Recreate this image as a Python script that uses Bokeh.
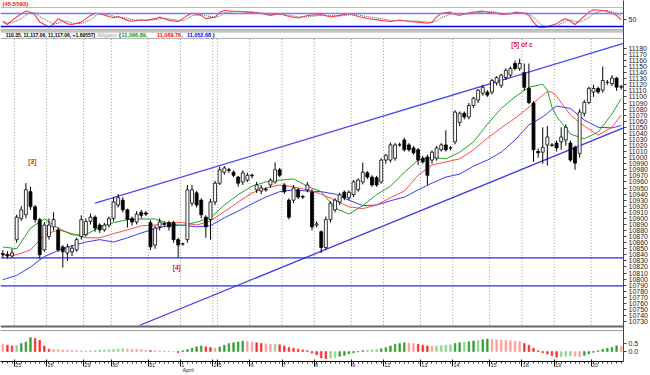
import numpy as np
from bokeh.plotting import figure
from bokeh.models import (Range1d, FixedTicker, CustomJSTickFormatter, Label, Span, AllLabels)
from bokeh.embed import file_html
from bokeh.resources import INLINE

# ---------------- data ----------------
days = ["24", "25", "26", "29", "30", "31", "1", "2", "5", "6", "7", "8", "9",
        "12", "13", "14", "15", "16", "19", "20"]
bars_per_day = [3, 7, 8, 6, 8, 7, 7, 1, 7, 7, 7, 8, 7, 8, 7, 8, 7, 7, 8, 7]
month_label = "April"
month_day = "1"

opens = [10842,10840,10838,10865,10900,10906,10944,10919,10898,10848,
         10870,10886,10881,10853,10843,10845,10848,10870,10873,10895,
         10902,10889,10881,10889,10900,10922,10930,10914,10900,10894,
         10910,10909,10893,10856,10886,10891,10893,10893,10865,10858,
         10865,10925,10942,10930,10902,10898,10927,10958,10976,10980,
         10976,10968,10960,10963,10971,10947,10945,10948,10955,10960,
         10980,10955,10930,10930,10947,10936,10947,10943,10889,10878,
         10852,10898,10914,10927,10943,10934,10939,10947,10960,10975,
         10968,10967,10960,10996,10996,10999,11021,11029,11021,11016,
         11013,10999,11001,10996,10999,11013,11021,11016,11026,11058,
         11073,11067,11086,11095,11106,11108,11108,11123,11119,11132,
         11136,11155,11147,11140,11114,11090,11010,11009,11021,11021,
         11024,11026,11029,11024,11017,11007,11073,11091,11108,11114,
         11111,11124,11122,11131,11116]
highs = [10848,10846,10850,10906,10920,10958,10952,10922,10901,10894,
         10900,10910,10885,10856,10858,10856,10868,10905,10900,10908,
         10905,10892,10893,10903,10935,10940,10935,10916,10903,10912,
         10914,10912,10897,10888,10900,10895,10896,10896,10868,10860,
         10955,10955,10945,10933,10905,10932,10962,10985,10986,10983,
         10979,10970,10979,10975,10974,10960,10955,10951,10966,10992,
         10983,10958,10933,10955,10950,10939,10960,10948,10895,10880,
         10903,10928,10933,10942,10946,10946,10963,10966,10992,10978,
         10971,10970,10999,11006,11025,11024,11025,11033,11024,11019,
         11016,11003,11005,11012,11019,11024,11045,11019,11078,11076,
         11076,11090,11100,11113,11120,11111,11130,11134,11138,11147,
         11150,11160,11163,11155,11155,11093,11015,11050,11052,11024,
         11028,11050,11055,11028,11020,11080,11095,11117,11120,11117,
         11150,11128,11136,11133,11120]
lows = [10835,10833,10834,10860,10896,10900,10914,10893,10833,10845,
        10865,10880,10845,10819,10830,10838,10845,10865,10870,10890,
        10878,10876,10878,10885,10895,10918,10910,10885,10888,10890,
        10900,10904,10848,10850,10880,10886,10880,10860,10835,10855,
        10860,10920,10918,10900,10868,10865,10922,10955,10972,10975,
        10968,10952,10955,10960,10966,10942,10940,10944,10950,10957,
        10968,10940,10898,10925,10932,10932,10943,10880,10885,10843,
        10848,10893,10910,10922,10930,10930,10935,10944,10956,10965,
        10952,10952,10957,10990,10992,10995,11018,11010,11010,11005,
        10988,10990,10955,10990,10995,11010,11010,11012,11022,11052,
        11063,11063,11082,11090,11102,11100,11104,11119,11115,11128,
        11132,11144,11143,11110,11088,10993,11000,10990,10987,11018,
        11010,11013,11020,10993,10980,11000,11068,11088,11100,11105,
        11107,11120,11118,11110,11112]
closes = [10840,10838,10843,10902,10914,10947,10919,10898,10840,10889,
          10889,10898,10848,10845,10853,10851,10865,10898,10895,10902,
          10884,10881,10889,10900,10927,10934,10914,10898,10894,10907,
          10905,10907,10853,10884,10894,10890,10886,10865,10856,10858,
          10947,10947,10922,10906,10886,10927,10958,10980,10983,10979,
          10971,10958,10975,10971,10970,10955,10950,10947,10963,10980,
          10971,10944,10902,10950,10935,10935,10955,10886,10891,10852,
          10898,10925,10930,10939,10934,10943,10960,10963,10976,10968,
          10955,10955,10996,11004,11021,11021,11021,11013,11013,11008,
          10996,10993,10971,11009,11016,11021,11013,11016,11075,11073,
          11067,11086,11098,11111,11116,11103,11127,11132,11136,11144,
          11147,11147,11155,11116,11091,11013,11008,11017,11034,11020,
          11016,11034,11050,10996,10991,11075,11091,11114,11114,11108,
          11127,11124,11131,11116,11117]

# Alligator lines (at sample bars)
ma_idx = [0,3,6,9,12,15,18,21,24,27,30,33,36,39,42,45,48,51,54,57,60,63,66,69,72,75,
          78,81,84,87,90,93,96,99,102,105,108,111,114,117,118,119,120,123,126,129,132,134]
lips_green = [10853,10850,10884,10899,10884,10873,10873,10886,10893,10898,10899,10899,10891,
              10888,10894,10901,10922,10939,10953,10960,10963,10965,10953,10944,10917,10907,
              10921,10939,10953,10976,10996,11001,10998,11009,11026,11055,11081,11100,11116,
              11121,11111,11083,11068,11039,11031,11042,11072,11097]
teeth_red = [10840,10840,10848,10873,10881,10875,10868,10868,10875,10881,10888,10889,10893,
             10893,10889,10896,10911,10927,10942,10950,10955,10952,10947,10940,10930,10919,
             10916,10922,10934,10945,10971,10988,10993,10998,11013,11032,11049,11065,11083,
             11103,11109,11108,11101,11070,11052,11037,11050,11070]
jaw_blue = [10799,10806,10820,10837,10847,10855,10861,10865,10861,10868,10876,10883,10888,
            10889,10886,10888,10901,10912,10924,10935,10944,10947,10945,10944,10940,10930,
            10921,10922,10929,10935,10947,10958,10968,10973,10986,10996,11009,11029,11054,
            11067,11073,11080,11085,11081,11062,11050,11049,11053]

# Trend channel and support levels
upper_x = [20.0, 134.5]
upper_y = [10925, 11188]
lower_x = [29.7, 134.5]
lower_y = [10724, 11049]
support_levels = [10835, 10789]

# Wave labels
wave_text = ["[3]", "[4]", "[5] of c"]
wave_x = [6.4, 37.7, 112.5]
wave_y = [10993, 10819, 11187]

# Oscillator (top pane)
osc_idx = [0,1,2,4,5,6,7,8,10,11,12,13,14,15,17,19,20,21,23,24,25,27,28,30,31,33,34,35,36,
           38,39,40,41,43,44,46,47,48,51,54,56,58,60,62,64,66,69,71,73,75,77,79,82,84,86,88,
           90,92,93,94,95,97,98,99,100,102,104,105,107,108,110,111,113,114,115,116,117,118,
           120,121,122,123,124,125,127,128,130,131,132,133,134]
osc_fast = [40,29,48,79,91,86,71,40,17,32,56,44,32,29,40,71,81,79,66,60,66,48,44,51,48,56,63,
            56,48,43,56,71,81,71,56,63,86,94,89,85,80,71,80,66,59,71,75,64,71,80,66,57,48,43,
            50,43,40,35,40,63,81,86,75,71,79,86,91,86,81,75,79,86,81,71,40,17,14,20,32,48,56,
            44,29,48,86,97,94,89,81,71,50]
osc_slow = [45,35,38,55,72,85,84,66,42,30,35,44,44,35,33,50,68,78,75,67,63,58,51,48,48,51,55,
            58,55,48,48,56,69,76,70,62,68,83,90,87,83,76,75,72,64,64,72,70,68,74,73,65,56,48,
            46,46,44,40,38,45,60,77,81,78,75,80,86,89,86,80,78,80,83,80,64,42,24,17,22,33,45,
            50,43,40,60,80,93,94,88,80,68]
osc_levels = [80, 20]
osc_mid = 50
osc_value_text = "(45.5593)"

# Histogram oscillator (bottom pane)
hist = [0.45,0.40,0.35,0.38,0.50,0.60,0.87,0.82,0.70,0.35,
        0.15,0.13,0.12,0.10,0.09,0.08,0.06,0.04,0.03,0.05,
        0.07,0.09,0.10,0.12,0.14,0.16,0.17,0.15,0.14,0.13,
        0.12,0.10,0.06,0.05,0.04,0.03,0.02,0.00,-0.06,0.05,
        0.12,0.20,0.30,0.35,0.30,0.25,0.22,0.28,0.40,0.50,
        0.55,0.60,0.65,0.62,0.60,0.55,0.50,0.48,0.45,0.46,
        0.42,0.35,0.25,0.20,0.15,0.10,0.05,-0.10,-0.20,-0.40,
        -0.45,-0.42,-0.38,-0.30,-0.25,-0.15,-0.08,-0.02,0.05,0.08,
        0.10,0.13,0.18,0.25,0.35,0.45,0.50,0.55,0.53,0.50,
        0.45,0.40,0.35,0.33,0.35,0.38,0.40,0.42,0.50,0.55,
        0.58,0.62,0.66,0.70,0.74,0.78,0.76,0.74,0.72,0.70,
        0.68,0.65,0.62,0.50,0.40,0.20,0.05,-0.08,-0.15,-0.25,
        -0.35,-0.32,-0.30,-0.28,-0.30,-0.33,-0.25,-0.15,-0.05,0.05,
        0.15,0.20,0.25,0.36,0.34]
hist_ticks = [0.5, 0.0]
hist_tick_labels = ["0.5", "0.0"]

price_ticks = list(range(10730, 11181, 10))

header_main = "110.35, 11,117.06, 11,117.06, +1.89557)"
alligator_name = "Alligator"
alligator_vals = ["11,096.89,", "11,069.76,", "11,052.68"]

n = len(closes)
assert len(opens) == len(highs) == len(lows) == n == sum(bars_per_day) == len(hist)
assert len(osc_idx) == len(osc_fast) == len(osc_slow)
assert len(ma_idx) == len(lips_green) == len(teeth_red) == len(jaw_blue)

idx = np.arange(n)
starts = np.cumsum([0] + bars_per_day[:-1])
bounds = [float(s) - 0.5 for s in starts[1:]]

# ---------------- figure ----------------
W, H = 650, 375
y_main = Range1d(10664.3, 11258.8)
r_osc = Range1d(-1530.8, 140)
r_hist = Range1d(-0.625, 22)
p = figure(width=W, height=H, x_range=Range1d(-0.5, 134.5), y_range=y_main,
           output_backend="svg", toolbar_location=None, y_axis_location="right",
           min_border_left=0, min_border_top=0, min_border_right=25, min_border_bottom=13)
p.extra_y_ranges = {"ref": Range1d(362, 0), "osc": r_osc, "hist": r_hist}
p.extra_x_ranges = {"refx": Range1d(0, 625)}
p.background_fill_color = "white"
p.border_fill_color = "white"
p.outline_line_color = None
p.xgrid.visible = False
p.ygrid.visible = False


def to_main(v, r):
    return y_main.start + (v - r.start) / (r.end - r.start) * (y_main.end - y_main.start)


extra_ticks = [round(to_main(osc_mid, r_osc), 3)] + [round(to_main(v, r_hist), 3) for v in hist_ticks]
extra_labels = [str(osc_mid)] + hist_tick_labels

# right axis (prices + pane scale labels)
ya = p.yaxis[0]
ya.ticker = FixedTicker(ticks=price_ticks + extra_ticks, minor_ticks=[])
ya.formatter = CustomJSTickFormatter(
    args=dict(extra=extra_ticks, extra_labels=extra_labels),
    code="""
    for (let j = 0; j < extra.length; j++) {
        if (Math.abs(extra[j] - tick) < 0.01) return extra_labels[j];
    }
    return tick.toFixed(0);
    """)
ya.major_label_policy = AllLabels()
ya.major_label_text_font = "Liberation Sans"
ya.major_label_text_font_size = "7px"
ya.major_label_text_color = "#222222"
ya.major_tick_out = 3
ya.major_tick_in = 0
ya.major_label_standoff = 2
ya.axis_line_color = "#444444"
ya.major_tick_line_color = "#444444"


# bottom date axis: labels set just right of each day boundary
def pad(text, size):
    w = 0.556 * size * len(text) if text.isdigit() else 2.33 * size
    k = max(1, int(round((w + 2.0) / (0.278 * size))))
    return "\u00a0" * k + text


date_labels = []
for d in days[1:]:
    lab = pad(d, 5.5)
    if d == month_day:
        lab = lab + "\n" + pad(month_label, 5.5)
    date_labels.append(lab)

xa = p.xaxis[0]
xa.ticker = FixedTicker(ticks=bounds, minor_ticks=list(idx))
xa.formatter = CustomJSTickFormatter(args=dict(labels=date_labels),
                                     code="return labels[index];")
xa.major_label_policy = AllLabels()
xa.major_label_text_font = "Liberation Sans"
xa.major_label_text_font_size = "5.5px"
xa.major_label_text_line_height = 0.9
xa.major_label_text_color = "#222222"
xa.major_tick_out = 5
xa.major_tick_in = 2
xa.minor_tick_out = 2
xa.minor_tick_in = 0
xa.major_label_standoff = -5
xa.axis_line_color = "black"
xa.major_tick_line_color = "black"
xa.minor_tick_line_color = "#333333"

# pane separators (reference pixel rows)
for yy, col, w in [(7, "#bbbbbb", 1), (29.5, "#777777", 1), (31.5, "#999999", 1),
                   (38, "#aaaaaa", 1), (327, "#666666", 2), (331, "#999999", 1)]:
    p.add_layout(Span(location=yy, dimension="width", y_range_name="ref",
                      line_color=col, line_width=w))

# vertical dotted day separators in the main pane
p.segment(x0=bounds, y0=[38.5] * len(bounds), x1=bounds, y1=[326] * len(bounds),
          y_range_name="ref", line_color="#9a9a9a", line_dash="1 2", line_width=1)

# ---- top oscillator ----
p.add_layout(Span(location=osc_levels[0], dimension="width", y_range_name="osc",
                  line_color="#7777ff", line_width=1.4))
p.add_layout(Span(location=osc_levels[1], dimension="width", y_range_name="osc",
                  line_color="#0000ee", line_width=1.4))
p.line(osc_idx, osc_slow, y_range_name="osc", line_color="#555555", line_dash="1 1",
       line_width=1)
p.line(osc_idx, osc_fast, y_range_name="osc", line_color="#ff3a3a", line_width=1.1)

# ---- main pane ----
for lvl in support_levels:
    p.add_layout(Span(location=lvl, dimension="width", line_color="#2a2aee", line_width=1.3))
p.line(upper_x, upper_y, line_color="#4545ff", line_width=1.3)
p.line(lower_x, lower_y, line_color="#3a3aee", line_width=1.3)

p.line(ma_idx, jaw_blue, line_color="#3a3aff", line_width=1)
p.line(ma_idx, teeth_red, line_color="#ff4a4a", line_width=1)
p.line(ma_idx, lips_green, line_color="#22a022", line_width=1)

o = np.array(opens); c = np.array(closes)
up = c >= o
p.segment(x0=idx, y0=highs, x1=idx, y1=lows, line_color="black", line_width=1)
p.vbar(x=idx[up], width=0.64, top=c[up], bottom=o[up], fill_color="white",
       line_color="black", line_width=0.8)
p.vbar(x=idx[~up], width=0.64, top=o[~up], bottom=c[~up], fill_color="black",
       line_color="black", line_width=0.8)

for t, xx, yy in zip(wave_text, wave_x, wave_y):
    p.add_layout(Label(x=xx, y=yy, text=t, text_color="#ee1111", text_font="Liberation Sans",
                       text_font_style="bold", text_font_size="6.5px", text_align="center",
                       text_baseline="middle"))

# ---- bottom histogram ----
hcols = []
for i, v in enumerate(hist):
    d = v - (hist[i - 1] if i > 0 else v + 0.01)
    if d > 0:
        hcols.append("#2f9f2f" if d > 0.04 else "#8fd48f")
    else:
        hcols.append("#ff2a2a" if d < -0.04 else "#ff9c9c")
p.vbar(x=idx, top=hist, bottom=0, width=0.36, y_range_name="hist",
       fill_color=hcols, line_color=hcols, line_width=0.6)


# ---- header texts in reference pixel coordinates ----
def ref_label(x, y, text, size, color, style="normal", align="left", font="Liberation Sans"):
    p.add_layout(Label(x=x, y=y, x_range_name="refx", y_range_name="ref", text=text,
                       text_font_size=f"{size}px", text_color=color, text_font_style=style,
                       text_align=align, text_baseline="middle", text_font=font))


ref_label(2, 3.5, osc_value_text, 6, "#ee1111", "bold")
ref_label(95, 34.6, header_main, 5, "black", "bold", align="right")
ref_label(97, 34.6, alligator_name, 5.5, "#9a9a9a", "italic")
ref_label(119, 34.6, "(", 5.5, "black", "bold")
ref_label(121.5, 34.6, alligator_vals[0], 5.5, "#009a00", "bold")
ref_label(157, 34.6, alligator_vals[1], 5.5, "#ff0000", "bold")
ref_label(187, 34.6, alligator_vals[2], 5.5, "#0000ff", "bold")
ref_label(213, 34.6, ")", 5.5, "black", "bold")

open("out.html", "w").write(file_html(p, INLINE))
